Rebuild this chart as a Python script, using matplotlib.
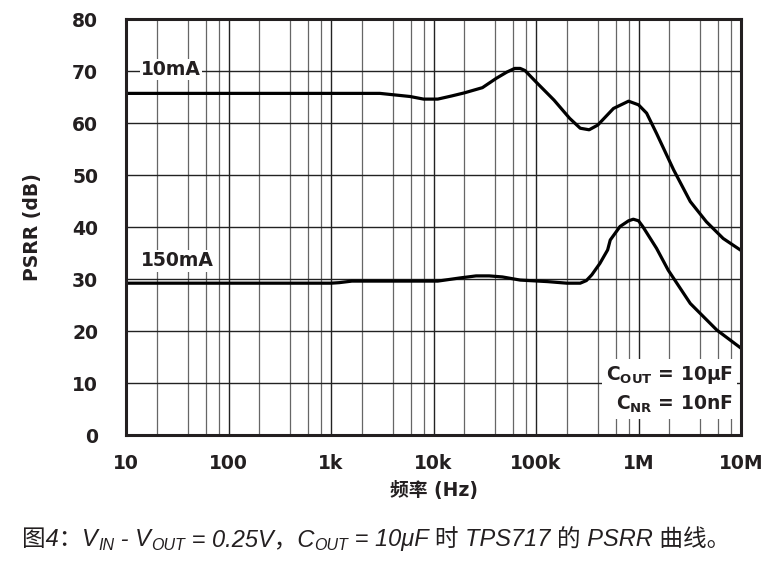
import matplotlib
matplotlib.use("Agg")
import matplotlib.pyplot as plt
from matplotlib import font_manager
from matplotlib.ticker import FixedLocator, NullFormatter

# data
freq_10ma = [10, 100, 1000, 3000, 5900, 8000, 11000, 15000, 20000, 30000,
             41000, 52000, 62000, 70000, 78000, 100000, 150000, 213000,
             270000, 330000, 400000, 570000, 800000, 1000000, 1200000,
             1500000, 2200000, 3200000, 4600000, 6700000, 10000000]
psrr_10ma = [65.7, 65.7, 65.7, 65.7, 65.1, 64.6, 64.6, 65.2, 65.8, 66.8,
             68.6, 69.8, 70.5, 70.5, 70.1, 67.9, 64.4, 60.9,
             59.0, 58.7, 59.6, 62.8, 64.2, 63.5, 61.9,
             58.0, 51.0, 44.9, 41.0, 37.8, 35.5]

freq_150ma = [10, 100, 1000, 1200, 1600, 3000, 11000, 18000, 26000, 35000,
              47000, 70000, 130000, 200000, 270000, 310000, 350000, 420000,
              500000, 530000, 660000, 800000, 890000, 1000000, 1100000,
              1500000, 1950000, 3200000, 5800000, 10000000]
psrr_150ma = [29.2, 29.2, 29.2, 29.3, 29.6, 29.6, 29.6, 30.2, 30.6, 30.6,
              30.4, 29.8, 29.5, 29.2, 29.2, 29.7, 30.8, 33.0,
              35.6, 37.5, 40.1, 41.2, 41.5, 41.2, 40.1,
              35.9, 31.7, 25.3, 20.2, 16.7]

x_ticks = [10, 100, 1000, 10000, 100000, 1000000, 10000000]
x_tick_labels = ['10', '100', '1k', '10k', '100k', '1M', '10M']
y_ticks = [0, 10, 20, 30, 40, 50, 60, 70, 80]

caption_parts = [
    ('图4：', 'n'), ('V', 'n'), ('IN', 's'), (' - V', 'n'), ('OUT', 's'),
    (' = 0.25V，C', 'n'), ('OUT', 's'), (' = 10μF 时 TPS717 的 PSRR 曲线。', 'n'),
]

installed = {f.name for f in font_manager.fontManager.ttflist}
bold_font = 'DejaVu Sans'
cap_font = 'Liberation Sans Narrow' if 'Liberation Sans Narrow' in installed else 'Liberation Sans'
cjk = 'Noto Sans CJK SC'
ink = '#231f20'

plt.rcParams['font.family'] = [bold_font, cjk]
plt.rcParams['mathtext.fontset'] = 'dejavusans'

fig = plt.figure(figsize=(7.67, 5.66), dpi=100)
ax = fig.add_axes([0.1643, 0.2314, 0.8018, 0.735])

ax.plot(freq_10ma, psrr_10ma, color='black', lw=2.3, solid_joinstyle='round',
        zorder=3)
ax.plot(freq_150ma, psrr_150ma, color='black', lw=2.3, solid_joinstyle='round',
        zorder=3)

ax.set_xscale('log')
ax.set_xlim(10, 1e7)
ax.set_ylim(0, 80)
ax.set_xticks(x_ticks)
ax.set_xticklabels(x_tick_labels)
minors = [m * d for d in x_ticks[:-1] for m in (2, 4, 6, 8)]
ax.xaxis.set_minor_locator(FixedLocator(minors))
ax.xaxis.set_minor_formatter(NullFormatter())
ax.set_yticks(y_ticks)

ax.grid(which='major', color='#222222', lw=1.0)
ax.grid(which='minor', axis='x', color='#666666', lw=0.9)
ax.set_axisbelow(True)

ax.tick_params(which='both', length=0)
ax.tick_params(axis='y', pad=20, labelsize=13.5)
ax.tick_params(axis='x', pad=14, labelsize=13.5)
for lab in ax.get_xticklabels() + ax.get_yticklabels():
    lab.set_fontweight('bold')
    lab.set_color(ink)

for sp in ax.spines.values():
    sp.set_linewidth(2.2)
    sp.set_color(ink)
    sp.set_zorder(4)

ax.set_ylabel('PSRR (dB)', fontsize=13.5, fontweight='bold', color=ink)
ax.yaxis.set_label_coords(-0.137, 0.5)
ax.set_xlabel('频率 (Hz)', fontsize=13.5, fontweight='bold', color=ink)
ax.xaxis.set_label_coords(0.5, -0.11)

box = dict(facecolor='white', edgecolor='none', pad=1.0)
ax.text(14, 70.3, '10mA', fontsize=13.5, fontweight='bold', ha='left',
        va='center', bbox=box, zorder=2.5, color=ink)
ax.text(14, 33.5, '150mA', fontsize=13.5, fontweight='bold', ha='left',
        va='center', bbox=box, zorder=2.5, color=ink)
ax.text(0.987, 0.11,
        r'$\mathbf{C_{OUT}}$ = 10μF' + '\n' + r'$\mathbf{C_{NR}}$ = 10nF',
        transform=ax.transAxes, fontsize=13.5, fontweight='bold', ha='right',
        va='center', multialignment='right', linespacing=1.45,
        bbox=dict(facecolor='white', edgecolor='none', pad=3), zorder=2.5,
        color=ink)

# caption built piece by piece so the subscripts sit right
renderer = fig.canvas.get_renderer()
x_px = 22
base_px = 566 - 546
for txt, kind in caption_parts:
    size = 17 if kind == 'n' else 11.5
    y_px = base_px if kind == 'n' else base_px - 4
    t = fig.text(x_px / 767, y_px / 566, txt, fontsize=size, style='italic',
                 family=[cap_font, cjk, 'DejaVu Sans'], va='baseline',
                 ha='left', color=ink)
    x_px = t.get_window_extent(renderer).x1

fig.savefig('out.png', dpi=100)
